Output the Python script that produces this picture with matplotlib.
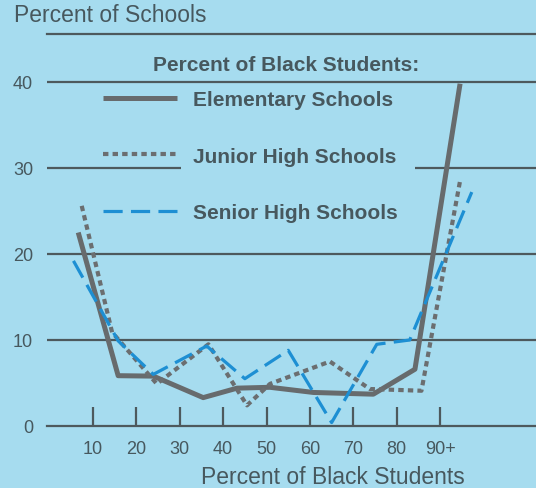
import matplotlib.pyplot as plt

# x = percent of black students (position), y = percent of schools
elem_x = [6.6, 15.8, 23.9, 35.4, 43.2, 50.8, 60.8, 74.6, 84.2, 94.6]
elem_y = [22.5, 5.85, 5.8, 3.3, 4.4, 4.5, 3.9, 3.7, 6.6, 39.8]

junior_x = [7.4, 14.4, 24.7, 36.6, 45.5, 50.8, 64.6, 73.8, 85.7, 94.6]
junior_y = [25.6, 10.9, 4.9, 9.5, 2.4, 4.9, 7.5, 4.3, 4.1, 28.5]

senior_x = [5.5, 15.8, 23.9, 36.2, 45.0, 55.0, 65.0, 75.4, 83.0, 97.3]
senior_y = [19.2, 9.9, 6.0, 9.3, 5.5, 8.8, 0.4, 9.5, 10.0, 27.2]

series_labels = ["Elementary Schools", "Junior High Schools", "Senior High Schools"]
x_ticks = [10, 20, 30, 40, 50, 60, 70, 80, 90]
x_tick_labels = ["10", "20", "30", "40", "50", "60", "70", "80", "90+"]
y_ticks = [0, 10, 20, 30, 40]
full_grid = [10, 20, 40]

BG = "#a6dcef"
INK = "#47585e"
GRID = "#4d595d"

plt.rcParams["font.family"] = ["Liberation Sans", "DejaVu Sans"]

fig = plt.figure(figsize=(5.36, 4.89), dpi=100)
fig.patch.set_facecolor(BG)
ax = fig.add_axes([47 / 536, 62 / 489, 489 / 536, 392 / 489])
ax.set_facecolor(BG)
ax.set_xlim(-0.6, 112.1)
ax.set_ylim(0, 45.58)

for side in ["left", "right"]:
    ax.spines[side].set_visible(False)
for side in ["top", "bottom"]:
    ax.spines[side].set_color(GRID)
    ax.spines[side].set_linewidth(1.6)

# gridlines, the 30 line is broken by the legend
ax.hlines(full_grid, -0.6, 112.1, color=GRID, lw=1.6, zorder=1)
ax.hlines(30, -0.6, 30.3, color=GRID, lw=1.6, zorder=1)
ax.hlines(30, 84.2, 112.1, color=GRID, lw=1.6, zorder=1)

h1, = ax.plot(elem_x, elem_y, color="#676b6d", lw=3.6,
              solid_capstyle="butt", zorder=3)
h2, = ax.plot(junior_x, junior_y, color="#6b6e70", lw=3.0,
              linestyle=(0, (1.3, 1.0)), dash_capstyle="butt", zorder=3)
h3, = ax.plot(senior_x, senior_y, color="#1d8fd3", lw=2.3,
              linestyle=(0, (6, 2.6)), dash_capstyle="butt", zorder=3)

ax.set_xticks(x_ticks, x_tick_labels)
ax.tick_params(axis="x", direction="in", length=13.7, width=1.6, color=GRID,
               pad=10, labelsize=13, labelcolor=INK)
ax.set_yticks(y_ticks)
ax.tick_params(axis="y", length=0, pad=10, labelsize=13, labelcolor=INK)

ax.set_xlabel("Percent of Black Students", fontsize=16.5, color=INK, va="center")
ax.xaxis.set_label_coords((333 - 47) / 489, (427 - 478) / 392)

fig.text(14 / 536, 1 - 16 / 489, "Percent of Schools", fontsize=16.5,
         color=INK, ha="left", va="center")

ax.text((286 - 47) / 489, (427 - 65) / 392, "Percent of Black Students:",
        transform=ax.transAxes, ha="center", va="center",
        fontsize=15, fontweight="bold", color=INK)

ax.legend([h1, h2, h3], series_labels, loc="upper left",
          bbox_to_anchor=((103 - 47) / 489, (427 - 91) / 392),
          frameon=False, handlelength=3.55, handletextpad=0.75,
          labelspacing=1.81, borderpad=0, borderaxespad=0,
          prop={"size": 15, "weight": "bold"}, labelcolor=INK)

fig.savefig("out.png", dpi=100, facecolor=BG)
